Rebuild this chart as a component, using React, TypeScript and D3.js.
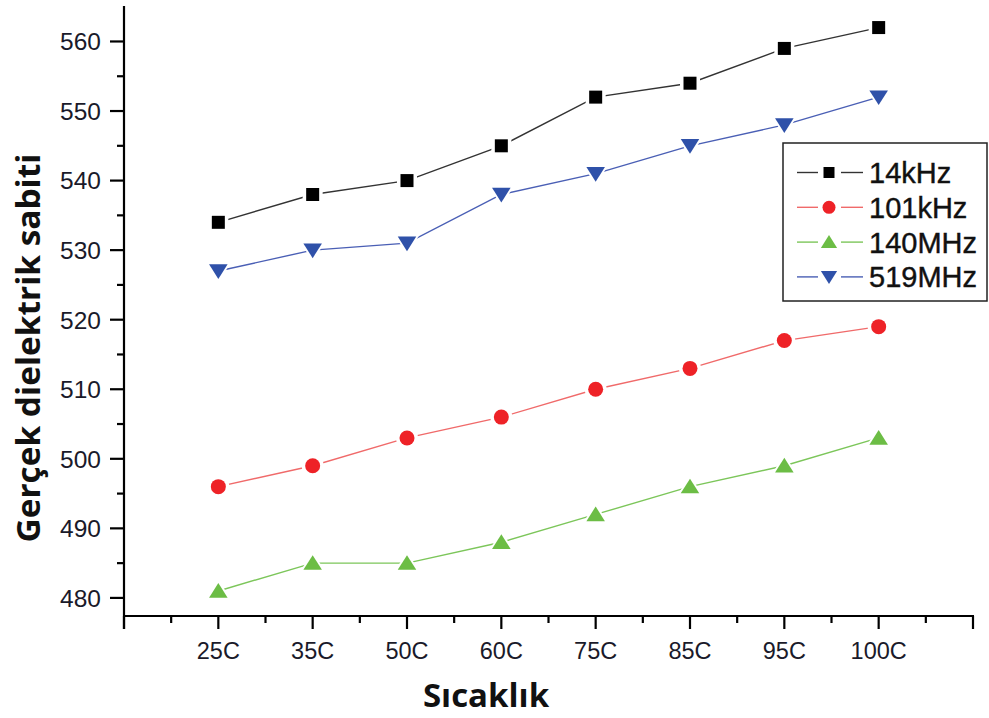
import React, { useEffect, useRef } from "react";
import * as d3 from "d3";

const categories = ["25C", "35C", "50C", "60C", "75C", "85C", "95C", "100C"];
const s14kHz = [534, 538, 540, 545, 552, 554, 559, 562];
const s101kHz = [496, 499, 503, 506, 510, 513, 517, 519];
const s140MHz = [481, 485, 485, 488, 492, 496, 499, 503];
const s519MHz = [527, 530, 531, 538, 541, 545, 548, 552];
const seriesNames = ["14kHz", "101kHz", "140MHz", "519MHz"];
const yTicks = [480, 490, 500, 510, 520, 530, 540, 550, 560];

const W = 989, H = 718;

export default function App() {
  const ref = useRef<SVGSVGElement>(null);
  useEffect(() => {
    const svg = d3.select(ref.current);
    svg.selectAll("*").remove();
    const x0 = 124, x1 = 973, yB = 616, yT = 6;
    const x = d3.scaleLinear().domain([0, categories.length + 1]).range([x0, x1]);
    const y = d3.scaleLinear().domain([477.4, 565.1]).range([yB, yT]);

    const series = [
      { name: seriesNames[0], data: s14kHz, line: "#333333", fill: "#000000", shape: "square" },
      { name: seriesNames[1], data: s101kHz, line: "#f06a6a", fill: "#ee2227", shape: "circle" },
      { name: seriesNames[2], data: s140MHz, line: "#7cc65a", fill: "#6cbd45", shape: "up" },
      { name: seriesNames[3], data: s519MHz, line: "#4a5fb5", fill: "#2f51a9", shape: "down" },
    ];

    const shapePath = (shape: string, s: number) => {
      if (shape === "square") return `M${-s / 2},${-s / 2}h${s}v${s}h${-s}Z`;
      if (shape === "circle") return d3.symbol(d3.symbolCircle, Math.PI * (s / 2) * (s / 2))()!;
      if (shape === "up") return `M0,${-s * 0.5}L${s * 0.58},${s * 0.42}L${-s * 0.58},${s * 0.42}Z`;
      return `M0,${s * 0.5}L${s * 0.58},${-s * 0.42}L${-s * 0.58},${-s * 0.42}Z`;
    };
    const sizes: Record<string, number> = { square: 13, circle: 15, up: 16, down: 16 };

    // axes
    const g = svg.append("g");
    const ax = g.append("g").attr("stroke", "#000").attr("stroke-width", 2.2).attr("fill", "none");
    ax.append("line").attr("x1", x0).attr("x2", x0).attr("y1", yT).attr("y2", yB + 13);
    ax.append("line").attr("x1", x0 - 1).attr("x2", x1 + 1).attr("y1", yB).attr("y2", yB);
    for (let i = 0; i <= categories.length + 1; i++) {
      ax.append("line").attr("x1", x(i)).attr("x2", x(i)).attr("y1", yB).attr("y2", yB + 13);
      if (i <= categories.length) {
        ax.append("line").attr("x1", x(i + 0.5)).attr("x2", x(i + 0.5)).attr("y1", yB).attr("y2", yB + 7);
      }
    }
    for (let v = 480; v <= 560; v += 5) {
      const major = v % 10 === 0;
      ax.append("line").attr("x1", x0 - (major ? 14 : 7)).attr("x2", x0).attr("y1", y(v)).attr("y2", y(v));
    }
    g.selectAll(".ytl").data(yTicks).enter().append("text")
      .attr("x", 101).attr("y", (d) => y(d)).attr("dy", "0.36em")
      .attr("text-anchor", "end").attr("font-family", "Liberation Sans, Arial, sans-serif")
      .attr("font-size", 24.5).attr("fill", "#1a1a2a").text((d) => d);
    g.selectAll(".xtl").data(categories).enter().append("text")
      .attr("x", (_d, i) => x(i + 1)).attr("y", 659)
      .attr("text-anchor", "middle").attr("font-family", "Liberation Sans, Arial, sans-serif")
      .attr("font-size", 23.5).attr("fill", "#1a1a2a").text((d) => d);

    g.append("text").attr("x", 486).attr("y", 707).attr("text-anchor", "middle")
      .attr("font-family", "Open Sans, sans-serif").attr("font-weight", "bold").attr("font-size", 33)
      .attr("fill", "#111").text("Sıcaklık");
    g.append("text").attr("transform", "translate(40,348) rotate(-90)").attr("text-anchor", "middle")
      .attr("font-family", "Open Sans, sans-serif").attr("font-weight", "bold").attr("font-size", 33)
      .attr("textLength", 389).attr("lengthAdjust", "spacingAndGlyphs")
      .attr("fill", "#111").text("Gerçek dielektrik sabiti");

    const line = d3.line<number>().x((_d, i) => x(i + 1)).y((d) => y(d));
    series.forEach((s) => {
      g.append("path").attr("d", line(s.data)!).attr("fill", "none")
        .attr("stroke", s.line).attr("stroke-width", 1.4);
      const sz = sizes[s.shape];
      s.data.forEach((v, i) => {
        g.append("path").attr("d", shapePath(s.shape, sz + 7))
          .attr("transform", `translate(${x(i + 1)},${y(v)})`).attr("fill", "#fff");
      });
      s.data.forEach((v, i) => {
        g.append("path").attr("d", shapePath(s.shape, sz))
          .attr("transform", `translate(${x(i + 1)},${y(v)})`).attr("fill", s.fill);
      });
    });

    const lg = g.append("g");
    lg.append("rect").attr("x", 783).attr("y", 143).attr("width", 204).attr("height", 158)
      .attr("fill", "#fff").attr("stroke", "#222").attr("stroke-width", 1.5);
    series.forEach((s, i) => {
      const cy = 172.5 + i * 34.8;
      lg.append("line").attr("x1", 797).attr("x2", 818).attr("y1", cy).attr("y2", cy)
        .attr("stroke", s.line).attr("stroke-width", 1.4);
      lg.append("line").attr("x1", 841).attr("x2", 863).attr("y1", cy).attr("y2", cy)
        .attr("stroke", s.line).attr("stroke-width", 1.4);
      lg.append("path").attr("d", shapePath(s.shape, sizes[s.shape] - 2))
        .attr("transform", `translate(829,${cy})`).attr("fill", s.fill);
      lg.append("text").attr("x", 869).attr("y", cy).attr("dy", "0.36em")
        .attr("font-family", "Liberation Sans, Arial, sans-serif").attr("font-size", 29)
        .attr("stroke", "#111").attr("stroke-width", 0.4)
        .attr("fill", "#111").text(s.name);
    });
  }, []);
  return (
    <svg ref={ref} width={W} height={H}
      style={{ position: "absolute", left: 0, top: 0, background: "#fff" }} />
  );
}
